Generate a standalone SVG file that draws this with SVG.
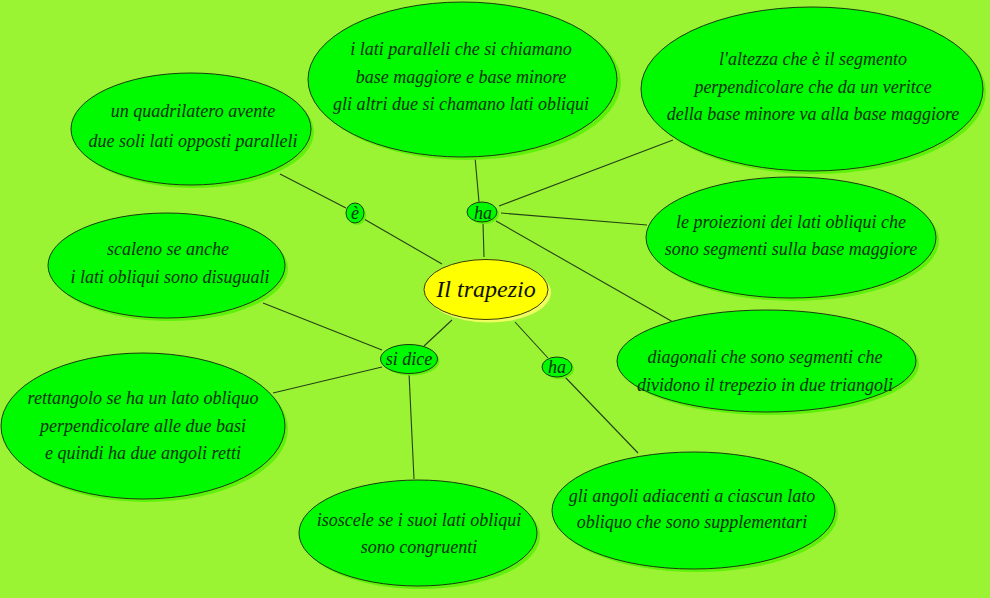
<svg xmlns="http://www.w3.org/2000/svg" width="990" height="598" viewBox="0 0 990 598">
<style>
.bg{fill:#9af434}
.sh{fill:#5ef20a}
.nd{fill:#00fb00;stroke:#1a3a10;stroke-width:1}
.shy{fill:#f0ff60}
.ndy{fill:#ffff00;stroke:#3a3a00;stroke-width:1}
.t{font-family:"Liberation Serif","DejaVu Serif",serif;font-style:italic;font-size:18px;fill:#073207;text-anchor:middle}
.tm{font-family:"Liberation Serif","DejaVu Serif",serif;font-style:italic;font-size:24px;fill:#101000;text-anchor:middle}
.ts{font-family:"Liberation Serif","DejaVu Serif",serif;font-style:italic;font-size:18px;fill:#073207;text-anchor:middle}
.c{stroke:#254015;stroke-width:1.1;fill:none}
</style>
<rect class="bg" x="0" y="0" width="990" height="598"/>
<g id="connectors">
<line class="c" x1="280" y1="174" x2="346" y2="208"/>
<line class="c" x1="364" y1="219" x2="442" y2="264"/>
<line class="c" x1="475" y1="157" x2="479" y2="202"/>
<line class="c" x1="483" y1="223" x2="484" y2="257"/>
<line class="c" x1="499" y1="206" x2="673" y2="140"/>
<line class="c" x1="501" y1="213" x2="647" y2="225"/>
<line class="c" x1="496" y1="221" x2="673" y2="322"/>
<line class="c" x1="452" y1="320" x2="424" y2="346"/>
<line class="c" x1="515" y1="322" x2="548" y2="358"/>
<line class="c" x1="565" y1="377" x2="638" y2="453"/>
<line class="c" x1="263" y1="303" x2="382" y2="350"/>
<line class="c" x1="273" y1="393" x2="382" y2="367"/>
<line class="c" x1="409" y1="373" x2="414" y2="479"/>
</g>
<g id="n-top">
<ellipse class="sh" cx="466" cy="82" rx="155" ry="78"/>
<ellipse class="nd" cx="462.5" cy="79.5" rx="154.5" ry="77.5"/>
<text class="t" x="461" y="55">i lati paralleli che si chiamano</text>
<text class="t" x="461" y="83">base maggiore e base minore</text>
<text class="t" x="461" y="110">gli altri due si chamano lati obliqui</text>
</g>
<g id="n-altezza">
<ellipse class="sh" cx="815" cy="92" rx="171" ry="82"/>
<ellipse class="nd" cx="812" cy="89" rx="171" ry="82"/>
<text class="t" x="813" y="65">l'altezza che è il segmento</text>
<text class="t" x="813" y="93">perpendicolare che da un veritce</text>
<text class="t" x="813" y="120">della base minore va alla base maggiore</text>
</g>
<g id="n-quad">
<ellipse class="sh" cx="194" cy="132" rx="120" ry="56"/>
<ellipse class="nd" cx="191" cy="129" rx="120" ry="56"/>
<text class="t" x="193" y="117">un quadrilatero avente</text>
<text class="t" x="193" y="147">due soli lati opposti paralleli</text>
</g>
<g id="n-proiezioni">
<ellipse class="sh" cx="794" cy="240.5" rx="145" ry="60.5"/>
<ellipse class="nd" cx="791" cy="237.5" rx="145" ry="60.5"/>
<text class="t" x="791" y="228">le proiezioni dei lati obliqui che</text>
<text class="t" x="791" y="255">sono segmenti sulla base maggiore</text>
</g>
<g id="n-diagonali">
<ellipse class="sh" cx="769.5" cy="364" rx="149.5" ry="51"/>
<ellipse class="nd" cx="766.5" cy="361" rx="149.5" ry="51"/>
<text class="t" x="765" y="363">diagonali che sono segmenti che</text>
<text class="t" x="765" y="391">dividono il trepezio in due triangoli</text>
</g>
<g id="n-scaleno">
<ellipse class="sh" cx="169.5" cy="268.5" rx="118.5" ry="52.5"/>
<ellipse class="nd" cx="166.5" cy="265.5" rx="118.5" ry="52.5"/>
<text class="t" x="168" y="255">scaleno se anche</text>
<text class="t" x="170" y="283">i lati obliqui sono disuguali</text>
</g>
<g id="n-rettangolo">
<ellipse class="sh" cx="146" cy="429" rx="142" ry="73"/>
<ellipse class="nd" cx="143" cy="426" rx="142" ry="73"/>
<text class="t" x="143" y="404">rettangolo se ha un lato obliquo</text>
<text class="t" x="143" y="432">perpendicolare alle due basi</text>
<text class="t" x="143" y="459">e quindi ha due angoli retti</text>
</g>
<g id="n-isoscele">
<ellipse class="sh" cx="421" cy="536" rx="119" ry="53"/>
<ellipse class="nd" cx="418" cy="533" rx="119" ry="53"/>
<text class="t" x="419" y="526">isoscele se i suoi lati obliqui</text>
<text class="t" x="419" y="553">sono congruenti</text>
</g>
<g id="n-angoli">
<ellipse class="sh" cx="696.5" cy="513.5" rx="141.5" ry="58.5"/>
<ellipse class="nd" cx="693.5" cy="510.5" rx="141.5" ry="58.5"/>
<text class="t" x="692" y="502">gli angoli adiacenti a ciascun lato</text>
<text class="t" x="692" y="528">obliquo che sono supplementari</text>
</g>
<g id="n-e">
<ellipse class="sh" cx="357" cy="215" rx="9" ry="10"/>
<ellipse class="nd" cx="355" cy="213" rx="9" ry="10"/>
<text class="ts" x="355" y="219">è</text>
</g>
<g id="n-ha1">
<ellipse class="sh" cx="484" cy="214" rx="15" ry="10"/>
<ellipse class="nd" cx="482" cy="212" rx="15" ry="10"/>
<text class="ts" x="483" y="219">ha</text>
</g>
<g id="n-sidice">
<ellipse class="sh" cx="411" cy="361" rx="28.5" ry="14.5"/>
<ellipse class="nd" cx="409" cy="359" rx="28.5" ry="14.5"/>
<text class="ts" x="409" y="365">si dice</text>
</g>
<g id="n-ha2">
<ellipse class="sh" cx="559" cy="369" rx="15" ry="10"/>
<ellipse class="nd" cx="557" cy="367" rx="15" ry="10"/>
<text class="ts" x="557" y="373">ha</text>
</g>
<g id="n-center">
<ellipse class="shy" cx="489" cy="292.5" rx="62" ry="30"/>
<ellipse class="ndy" cx="486" cy="289.5" rx="62" ry="30"/>
<text class="tm" x="486" y="297">Il trapezio</text>
</g>
</svg>
